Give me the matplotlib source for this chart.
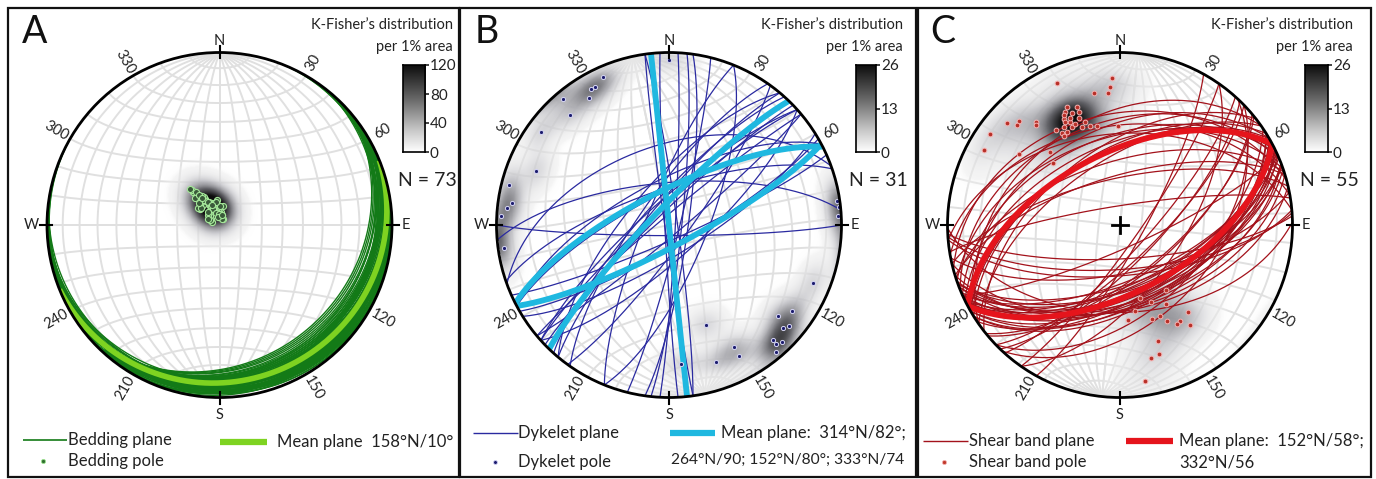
import numpy as np
import matplotlib
matplotlib.use("Agg")
import matplotlib.pyplot as plt
from matplotlib.colors import LinearSegmentedColormap
from matplotlib.patches import Rectangle, Circle
from matplotlib.lines import Line2D

plt.rcParams['font.family'] = ['Lato', 'DejaVu Sans']

# ---------------- data (dip direction / dip, degrees) ----------------
A_dipdir = [158, 140, 172, 147, 180, 155, 135, 166, 143, 157,
            185, 150, 130, 168, 156, 145, 176, 151, 164, 142,
            154, 195, 148, 160, 170, 138, 155, 128, 162, 157,
            150, 178, 141, 156, 133, 168, 148, 190, 144, 155,
            151, 161, 175, 149, 125, 153, 146, 182, 152, 163,
            140, 156, 137, 159, 171, 147, 165, 158, 112, 125,
            200, 210, 185, 135, 175, 130, 190, 120, 118, 205,
            172, 138, 195]
A_dip = [10, 12, 9, 15, 8, 11, 13, 7, 18, 10,
         6, 14, 12, 9, 11, 16, 8, 13, 7, 20,
         10, 5, 14, 11, 9, 17, 12, 13, 8, 10,
         15, 6, 21, 11, 12, 7, 16, 9, 19, 10,
         13, 8, 12, 14, 6, 11, 17, 9, 12, 7,
         22, 10, 14, 8, 11, 15, 6, 10, 4, 5,
         4, 3, 5, 6, 5, 7, 4, 5, 6, 3,
         4, 8, 5]
A_mean_dipdir = [158]
A_mean_dip = [10]

B_dipdir = [180, 156, 150, 148, 140, 138, 126, 112, 104, 98,
            93, 82, 262, 267, 292, 305, 310, 310, 318, 318,
            320, 332, 332, 341, 340, 355, 152, 316, 312, 264, 96]
B_dip = [85, 83, 80, 76, 85, 75, 81, 72, 85, 81,
         87, 86, 88, 88, 79, 76, 71, 80, 79, 82,
         86, 69, 75, 73, 52, 70, 80, 84, 78, 89, 84]
B_mean_dipdir = [314, 264, 152, 333]
B_mean_dip = [82, 90, 80, 74]

C_dipdir = [156, 177, 176, 175, 169, 156, 154, 160, 160, 152,
            154, 159, 161, 154, 159, 163, 167, 146, 148, 150,
            148, 179, 141, 140, 136, 134, 132, 125, 119, 125,
            136, 133, 155, 152, 157, 150, 156, 153, 338, 345,
            330, 350, 325, 355, 341, 336, 328, 322, 325, 342,
            343, 347, 351, 330, 334]
C_dip = [79, 74, 69, 66, 67, 64, 62, 62, 59, 59,
         56, 56, 53, 53, 51, 50, 49, 56, 53, 52,
         51, 48, 66, 65, 73, 72, 77, 81, 79, 61,
         49, 44, 58, 57, 60, 55, 54, 61, 40, 36,
         44, 42, 38, 46, 48, 48, 55, 54, 60, 60,
         67, 68, 81, 56, 52]
C_mean_dipdir = [152, 332]
C_mean_dip = [58, 56]

azimuth_labels = [30, 60, 120, 150, 210, 240, 300, 330]
cardinals = ['N', 'E', 'S', 'W']
cardinal_az = [0, 90, 180, 270]
cbar_ticks_A = [0, 40, 80, 120]
cbar_ticks_BC = [0, 13, 26]

# ---------------- helpers ----------------
W, H = 1376, 479
fig = plt.figure(figsize=(W / 100, H / 100), dpi=100)
fig.patch.set_facecolor('white')


def fx(px):
    return px / W


def fy(py):
    return 1 - py / H


def project(e, n, z):
    f = 1.0 / np.sqrt(1.0 + z)
    return e * f, n * f


def plane_curve(dd, dip, npts=241):
    t = np.linspace(0, np.pi, npts)
    a, d = np.radians(dd), np.radians(dip)
    s = np.array([np.sin(a - np.pi / 2), np.cos(a - np.pi / 2), 0.0])
    dv = np.array([np.sin(a) * np.cos(d), np.cos(a) * np.cos(d), np.sin(d)])
    v = np.outer(np.cos(t), s) + np.outer(np.sin(t), dv)
    return project(v[:, 0], v[:, 1], np.clip(v[:, 2], 0, None))


def pole_vec(dd, dip):
    tr = np.radians(dd + 180.0)
    pl = np.radians(90.0 - dip)
    return np.cos(pl) * np.sin(tr), np.cos(pl) * np.cos(tr), np.sin(pl)


def rot(x, y, ang):
    a = np.radians(ang)
    return x * np.cos(a) + y * np.sin(a), -x * np.sin(a) + y * np.cos(a)


def density(dds, dips, kappa, weight, n=401):
    xs = np.linspace(-1, 1, n)
    X, Y = np.meshgrid(xs, xs)
    r2 = X ** 2 + Y ** 2
    inside = r2 <= 1.0
    z = np.clip(1 - r2, 0, 1)
    h = np.sqrt(np.clip(1 - z ** 2, 0, None))
    r = np.sqrt(r2)
    r[r == 0] = 1
    e = X / r * h
    nn = Y / r * h
    D = np.zeros_like(X)
    for dd, dp in zip(dds, dips):
        pe, pn, pz = pole_vec(dd, dp)
        c = np.abs(e * pe + nn * pn + z * pz)
        D += weight * np.exp(kappa * (c - 1))
    D[~inside] = np.nan
    return D


disp_cmap = LinearSegmentedColormap.from_list(
    'disp', [(0.0, (1, 1, 1, 0.0)), (0.02, (0.93, 0.93, 0.93, 0.55)),
             (0.25, (0.74, 0.74, 0.76, 0.9)), (0.6, (0.38, 0.38, 0.40, 1.0)),
             (1.0, (0.05, 0.05, 0.05, 1.0))])
disp_cmap.set_bad((1, 1, 1, 0))
bar_cmap = LinearSegmentedColormap.from_list(
    'bar', [(0.0, '#ffffff'), (0.25, '#c8c8c8'), (0.6, '#6a6a6a'), (1.0, '#0d0d0d')])

R = 172.5
EXT = 1.35


def net_axes(cx, cy):
    ax = fig.add_axes([fx(cx - EXT * R), fy(cy + EXT * R),
                       2 * EXT * R / W, 2 * EXT * R / H])
    ax.set_xlim(-EXT, EXT)
    ax.set_ylim(-EXT, EXT)
    ax.axis('off')
    ax.patch.set_alpha(0)
    return ax


def draw_net(ax, net_rot):
    clip = Circle((0, 0), 1.0, transform=ax.transData)
    gc = '#e0e0e0'
    for dip in range(10, 91, 10):
        for dd in (90, 270):
            x, y = plane_curve(dd, dip)
            x, y = rot(x, y, net_rot)
            ax.plot(x, y, color=gc, lw=1.4, zorder=1, clip_path=clip)
    beta = np.linspace(0, np.pi, 181)
    for al in range(10, 171, 10):
        a = np.radians(al)
        e = np.sin(a) * np.cos(beta)
        n = np.cos(a) * np.ones_like(beta)
        z = np.sin(a) * np.sin(beta)
        x, y = project(e, n, z)
        x, y = rot(x, y, net_rot)
        ax.plot(x, y, color=gc, lw=1.4, zorder=1, clip_path=clip)
    return clip


def draw_frame(ax):
    ax.add_patch(Circle((0, 0), 1.0, fill=False, lw=2.0, color='black', zorder=10))
    lab_r = {'N': 1.065, 'E': 1.08, 'S': 1.10, 'W': 1.09}
    for lab, az in zip(cardinals, cardinal_az):
        a = np.radians(az)
        ax.plot([0.97 * np.sin(a), 1.04 * np.sin(a)], [0.97 * np.cos(a), 1.04 * np.cos(a)],
                color='black', lw=1.5, zorder=10)
        rr = lab_r[lab]
        ax.text(rr * np.sin(a), rr * np.cos(a), lab, ha='center', va='center',
                fontsize=10.5, color='#222222')
    for az in azimuth_labels:
        a = np.radians(az)
        rot_t = ((90 - az + 90) % 180) - 90
        ax.text(1.09 * np.sin(a), 1.09 * np.cos(a), str(az), ha='center', va='center',
                rotation=rot_t, rotation_mode='anchor', fontsize=10.5, color='#222222')


def draw_panel(cx, cy, net_rot, dds, dips, mdds, mdips, line_c, line_w, mean_c, mean_w,
               pole_style, kappa, weight, vmax, plus=False):
    ax = net_axes(cx, cy)
    clip = draw_net(ax, net_rot)
    D = density(dds, dips, kappa, weight)
    im = ax.imshow(D, extent=(-1, 1, -1, 1), origin='lower', cmap=disp_cmap,
                   vmin=0, vmax=vmax, interpolation='bilinear', zorder=2)
    im.set_clip_path(clip)
    for dd, dp in zip(dds, dips):
        x, y = plane_curve(dd, dp)
        ax.plot(x, y, color=line_c, lw=line_w, zorder=3, clip_path=clip)
    for dd, dp in zip(mdds, mdips):
        x, y = plane_curve(dd, dp)
        ax.plot(x, y, color=mean_c, lw=mean_w, zorder=4, clip_path=clip,
                solid_capstyle='butt')
    px, py = [], []
    for dd, dp in zip(dds, dips):
        pe, pn, pz = pole_vec(dd, dp)
        x, y = project(pe, pn, pz)
        px.append(x)
        py.append(y)
    ax.plot(px, py, linestyle='none', zorder=6, **pole_style)
    if plus:
        ax.plot([-0.045, 0.045], [0, 0], color='black', lw=2, zorder=7)
        ax.plot([0, 0], [-0.045, 0.045], color='black', lw=2, zorder=7)
    draw_frame(ax)
    return ax


def colorbar(x0, x1, y0, y1, vmax, ticks):
    cax = fig.add_axes([fx(x0), fy(y1), (x1 - x0) / W, (y1 - y0) / H])
    grad = np.linspace(0, 1, 256)[:, None]
    cax.imshow(grad, extent=(0, 1, 0, vmax), origin='lower', aspect='auto', cmap=bar_cmap)
    cax.set_xticks([])
    cax.set_yticks(ticks)
    cax.set_yticklabels([str(t) for t in ticks])
    cax.tick_params(axis='y', left=False, labelleft=False, right=True, labelright=True,
                    length=3, width=1.2, pad=0.5, labelsize=11, colors='#222222')
    for sp in cax.spines.values():
        sp.set_linewidth(1.2)


def header(xr, letter_x, letter, n_text, cb, vmax, ticks, nx):
    fig.text(fx(letter_x), fy(32), letter, fontsize=27, ha='left', va='center', color='#111111')
    fig.text(fx(xr), fy(25), 'K-Fisher’s distribution', fontsize=10.5, ha='right',
             va='center', color='#222222')
    fig.text(fx(xr), fy(47), 'per 1% area', fontsize=10.5, ha='right', va='center',
             color='#222222')
    colorbar(cb[0], cb[1], 65, 152, vmax, ticks)
    fig.text(fx(nx), fy(181), n_text, fontsize=14, ha='right', va='center', color='#222222')


def legend_line(x0, x1, y, color, lw):
    fig.add_artist(Line2D([fx(x0), fx(x1)], [fy(y), fy(y)], color=color, lw=lw,
                          transform=fig.transFigure, solid_capstyle='butt'))


def legend_dot(x, y, style):
    fig.add_artist(Line2D([fx(x)], [fy(y)], linestyle='none', transform=fig.transFigure,
                          **style))


LFS = 12

# ---------------- panel A ----------------
styleA = dict(marker='o', ms=4.4, mfc='#3a5a3a', mec='#a5e89a', mew=0.8)
draw_panel(219.5, 225, 0, A_dipdir, A_dip, A_mean_dipdir, A_mean_dip,
           '#137a17', 1.0, '#7ed321', 4.0, styleA, kappa=110, weight=3.3, vmax=120)
header(453, 22, 'A', 'N = 73', (403, 425), 120, cbar_ticks_A, 457)
legend_line(23, 67, 440, '#137a17', 1.2)
fig.text(fx(68), fy(440), 'Bedding plane', fontsize=LFS, ha='left', va='center', color='#222222')
legend_dot(43, 461, dict(marker='o', ms=3, mfc='#2f6f2f', mec='#9de38f', mew=0.6))
fig.text(fx(68), fy(461), 'Bedding pole', fontsize=LFS, ha='left', va='center', color='#222222')
legend_line(220, 267, 442, '#7ed321', 4.5)
fig.text(fx(277), fy(442), 'Mean plane  158°N/10°', fontsize=LFS, ha='left', va='center',
         color='#222222')

# ---------------- panel B ----------------
styleB = dict(marker='o', ms=3.0, mfc='#1c1c6e', mec='#d8d8f4', mew=0.7)
draw_panel(669, 225, -12, B_dipdir, B_dip, B_mean_dipdir, B_mean_dip,
           '#2a2aa0', 0.9, '#1fb8e0', 4.2, styleB, kappa=110, weight=4.2, vmax=26)
header(903, 475, 'B', 'N = 31', (856, 876), 26, cbar_ticks_BC, 908)
legend_line(473, 518, 433, '#2a2aa0', 1.0)
fig.text(fx(518), fy(433), 'Dykelet plane', fontsize=LFS, ha='left', va='center', color='#222222')
legend_dot(495, 462, dict(marker='o', ms=2.8, mfc='#1c1c6e', mec='#cfcff2', mew=0.6))
fig.text(fx(518), fy(462), 'Dykelet pole', fontsize=LFS, ha='left', va='center', color='#222222')
legend_line(670, 715, 433, '#1fb8e0', 4.5)
fig.text(fx(721), fy(433), 'Mean plane:  314°N/82°;', fontsize=LFS, ha='left', va='center',
         color='#222222')
fig.text(fx(671), fy(460), '264°N/90; 152°N/80°; 333°N/74', fontsize=11.2, ha='left',
         va='center', color='#222222')

# ---------------- panel C ----------------
styleC = dict(marker='o', ms=3.4, mfc='#b83028', mec='#f5b3b3', mew=0.7)
draw_panel(1120, 225, 6, C_dipdir, C_dip, C_mean_dipdir, C_mean_dip,
           '#a3121b', 0.9, '#e5141c', 4.2, styleC, kappa=65, weight=1.7, vmax=26, plus=True)
header(1353, 930, 'C', 'N = 55', (1305, 1328), 26, cbar_ticks_BC, 1359)
legend_line(923, 968, 441, '#a3121b', 1.0)
fig.text(fx(969), fy(441), 'Shear band plane', fontsize=LFS, ha='left', va='center',
         color='#222222')
legend_dot(944, 462, dict(marker='o', ms=3, mfc='#c0392b', mec='#f5b3b3', mew=0.6))
fig.text(fx(969), fy(462), 'Shear band pole', fontsize=LFS, ha='left', va='center',
         color='#222222')
legend_line(1126, 1173, 441, '#e5141c', 4.5)
fig.text(fx(1179), fy(441), 'Mean plane:  152°N/58°;', fontsize=LFS, ha='left', va='center',
         color='#222222')
fig.text(fx(1179), fy(462), '332°N/56', fontsize=LFS, ha='left', va='center', color='#222222')

# ---------------- panel frames ----------------
for x0, x1 in [(8, 459), (460, 916), (918, 1371)]:
    fig.add_artist(Rectangle((fx(x0), fy(477)), (x1 - x0) / W, (477 - 8) / H,
                             transform=fig.transFigure, fill=False, lw=1.6, color='#111111'))

fig.savefig('out.png', dpi=100, facecolor='white')
